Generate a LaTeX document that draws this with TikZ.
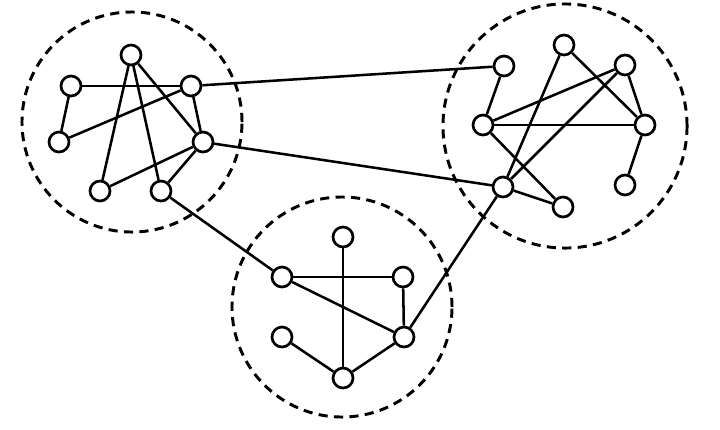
\documentclass[tikz,border=0pt]{standalone}
\usepackage{xcolor}
\usetikzlibrary{positioning}

\tikzset{
  vertex/.style={circle, draw, line width=1.9pt, fill=white, minimum size=0.5cm, inner sep=0pt},
  group/.style={circle, draw, dashed, line width=2.1pt, dash pattern=on 6.5pt off 4.5pt, inner sep=0pt},
  link/.style={line width=1.8pt}
}

\begin{document}
\begin{tikzpicture}[x=0.025cm, y=-0.025cm]
  \useasboundingbox (0,0) rectangle (720,429);

  % Groups
  \node[group, minimum size=5.5cm] (groupA) at (132,122) {};
  \node[group, minimum size=6.1cm] (groupB) at (565,126) {};
  \node[group, minimum size=5.5cm] (groupC) at (342,307) {};

  % Nodes, left group
  \node[vertex] (atop) at (131,55) {};
  \node[vertex] (aul) at (71,86) {};
  \node[vertex] (aur) at (191,86) {};
  \node[vertex] (aml) at (59,142) {};
  \node[vertex] (amr) at (203,142) {};
  \node[vertex] (abl) at (100,191) {};
  \node[vertex] (abr) at (161,191) {};

  % Nodes, right group
  \node[vertex] (bul) at (504,66) {};
  \node[vertex] (btop) at (564,45) {};
  \node[vertex] (bur) at (625,65) {};
  \node[vertex] (bml) at (483,125) {};
  \node[vertex] (bmr) at (645,125) {};
  \node[vertex] (bll) at (503,187) {};
  \node[vertex] (blr) at (625,185) {};
  \node[vertex] (bbot) at (563,207) {};

  % Nodes, bottom group
  \node[vertex] (ctop) at (343,237) {};
  \node[vertex] (cul) at (282,277) {};
  \node[vertex] (cur) at (403,277) {};
  \node[vertex] (cll) at (282,337) {};
  \node[vertex] (clr) at (404,337) {};
  \node[vertex] (cbot) at (343,378) {};

  % Edges, left group
  \draw[link] (aul) -- (aur);
  \draw[link] (aul) -- (aml);
  \draw[link] (aml) -- (aur);
  \draw[link] (atop) -- (abl);
  \draw[link] (atop) -- (abr);
  \draw[link] (atop) -- (amr);
  \draw[link] (aur) -- (amr);
  \draw[link] (amr) -- (abl);
  \draw[link] (amr) -- (abr);

  % Edges, right group
  \draw[link] (bul) -- (bml);
  \draw[link] (bml) -- (bmr);
  \draw[link] (bml) -- (bur);
  \draw[link] (bml) -- (bbot);
  \draw[link] (btop) -- (bll);
  \draw[link] (btop) -- (bmr);
  \draw[link] (bur) -- (bmr);
  \draw[link] (bur) -- (bll);
  \draw[link] (bmr) -- (blr);
  \draw[link] (bll) -- (bbot);

  % Edges, bottom group
  \draw[link] (ctop) -- (cbot);
  \draw[link] (cul) -- (cur);
  \draw[link] (cul) -- (clr);
  \draw[link] (cur) -- (clr);
  \draw[link] (cll) -- (cbot);
  \draw[link] (cbot) -- (clr);

  % Edges between groups
  \draw[link] (aur) -- (bul);
  \draw[link] (amr) -- (bll);
  \draw[link] (abr) -- (cul);
  \draw[link] (clr) -- (bll);
\end{tikzpicture}
\end{document}
